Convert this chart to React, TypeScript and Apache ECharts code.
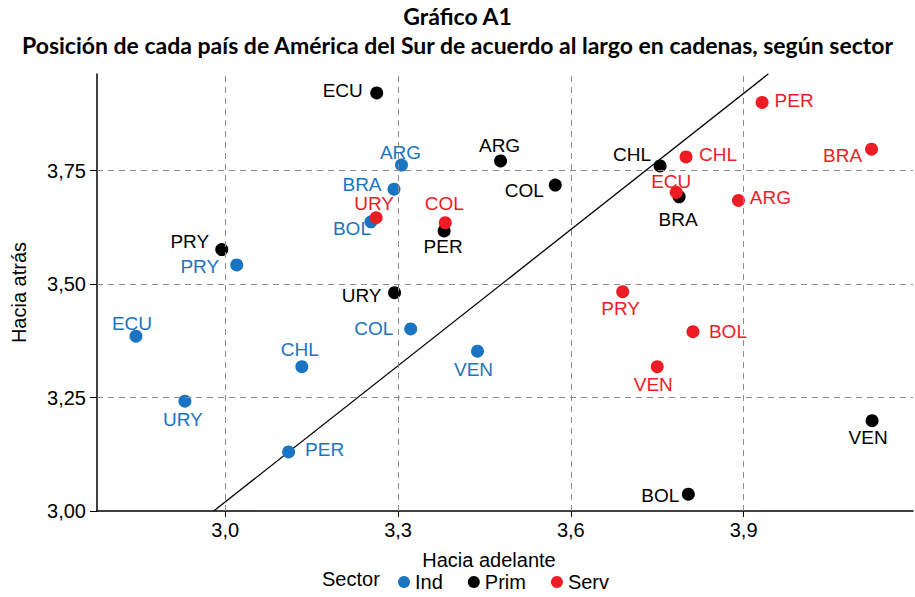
import React, { useEffect, useRef } from "react";
import * as echarts from "echarts";

// ---- Data ----
const xTicks = [3.0, 3.3, 3.6, 3.9];
const yTicks = [3.0, 3.25, 3.5, 3.75];
const xGridLines = [3.0, 3.3, 3.6, 3.9];
const yGridLines = [3.25, 3.5, 3.75];

const indNames = ["ECU", "URY", "PRY", "CHL", "PER", "COL", "VEN", "ARG", "BRA", "BOL"];
const indX = [2.845, 2.93, 3.02, 3.133, 3.11, 3.322, 3.438, 3.306, 3.293, 3.253];
const indY = [3.385, 3.242, 3.542, 3.318, 3.13, 3.401, 3.352, 3.762, 3.709, 3.637];

const primNames = ["ECU", "ARG", "COL", "PER", "PRY", "URY", "CHL", "BRA", "BOL", "VEN"];
const primX = [3.263, 3.478, 3.573, 3.38, 2.994, 3.294, 3.755, 3.788, 3.804, 4.123];
const primY = [3.921, 3.771, 3.718, 3.617, 3.576, 3.481, 3.76, 3.692, 3.037, 3.199];

const servNames = ["URY", "COL", "PER", "CHL", "ECU", "ARG", "BRA", "PRY", "BOL", "VEN"];
const servX = [3.262, 3.382, 3.932, 3.8, 3.783, 3.891, 4.122, 3.69, 3.812, 3.75];
const servY = [3.646, 3.635, 3.9, 3.78, 3.702, 3.684, 3.797, 3.483, 3.395, 3.318];

// reference diagonal (two endpoints)
const diagX = [2.98, 3.943];
const diagY = [3.0, 3.963];

// ---- Label placement (offsets from point centre, px) ----
const indLabelOffsets = [[-4, -13], [-2, 18], [-37, 2], [-2, -17], [36, -2], [-37, 0], [-4, 18], [-1, -13], [-32, -5], [-19, 7]];
const primLabelOffsets = [[-34, -2], [-1, -15], [-31, 5], [-1, 16], [-32, -8], [-33, 3], [-28, -11], [-1, 23], [-28, 1], [-4, 17]];
const servLabelOffsets = [[-2, -14], [-1, -19], [32, -2], [32, -2], [-5, -11], [32, -3], [-29, 6], [-2, 17], [35, 0], [-4, 18]];

const BLUE = "#1a74c2";
const BLACK = "#000000";
const RED = "#ee1c25";
const FONT = "Arial, 'Liberation Sans', sans-serif";
const TITLE_FONT = "Lato, 'Open Sans', sans-serif";

function buildPoints(names: string[], xs: number[], ys: number[], offs: number[][], color: string) {
  return names.map((n, i) => ({
    name: n,
    value: [xs[i], ys[i]],
    label: {
      show: true,
      position: "inside",
      offset: offs[i],
      formatter: n,
      color,
      opacity: 1,
      fontSize: 19,
      fontFamily: FONT,
    },
  }));
}

export default function App() {
  const ref = useRef<HTMLDivElement>(null);
  useEffect(() => {
    if (!ref.current) return;
    const chart = echarts.init(ref.current, null, { renderer: "svg" });
    const xMin = 2.7774;
    const xMax = 4.194;
    const yMin = 3.0;
    const yMax = 3.9626;
    const scatterBase = {
      type: "scatter",
      symbol: "circle",
      symbolSize: 13,
      z: 3,
      emphasis: { disabled: true },
    };
    const titleStyle = {
      fontFamily: TITLE_FONT,
      fontWeight: "bold",
      fontSize: 23,
      color: "#000",
    };
    chart.setOption({
      animation: false,
      title: [
        { text: "Gráfico A1", left: "center", top: -1, textStyle: titleStyle },
        {
          text: "Posición de cada país de América del Sur de acuerdo al largo en cadenas, según sector",
          left: "center",
          top: 28,
          textStyle: titleStyle,
        },
      ],
      grid: { left: 97, right: 2, top: 74, bottom: 86, containLabel: false },
      legend: {
        data: ["Ind", "Prim", "Serv"],
        left: 393,
        top: 567,
        icon: "circle",
        itemWidth: 12,
        itemHeight: 12,
        itemGap: 25,
        itemStyle: { opacity: 1 },
        textStyle: { fontSize: 20, fontFamily: FONT, color: "#000" },
      },
      graphic: [
        {
          type: "text",
          left: 322,
          top: 569,
          style: { text: "Sector", fontSize: 20, fontFamily: FONT, fill: "#000" },
        },
      ],
      xAxis: {
        type: "value",
        min: xMin,
        max: xMax,
        name: "Hacia adelante",
        nameLocation: "middle",
        nameGap: 39,
        nameTextStyle: { fontSize: 20, fontFamily: FONT, color: "#000", padding: [0, 32, 0, 0] },
        axisLine: { show: true, lineStyle: { color: "#000", width: 1.5 } },
        axisTick: { show: true, length: 6, customValues: xTicks, lineStyle: { color: "#000" } },
        axisLabel: {
          customValues: xTicks,
          formatter: (v: number) => v.toFixed(1).replace(".", ","),
          fontSize: 20,
          fontFamily: FONT,
          color: "#000",
          margin: 9,
        },
        splitLine: { show: false },
      },
      yAxis: {
        type: "value",
        min: yMin,
        max: yMax,
        name: "Hacia atrás",
        nameLocation: "middle",
        nameGap: 68,
        nameTextStyle: { fontSize: 20, fontFamily: FONT, color: "#000" },
        axisLine: { show: true, lineStyle: { color: "#000", width: 1.5 } },
        axisTick: { show: true, length: 7, customValues: yTicks, lineStyle: { color: "#000" } },
        axisLabel: {
          customValues: yTicks,
          formatter: (v: number) => v.toFixed(2).replace(".", ","),
          fontSize: 20,
          fontFamily: FONT,
          color: "#000",
          margin: 11,
        },
        splitLine: { show: false },
      },
      series: [
        {
          type: "line",
          name: "grid",
          data: [],
          z: 1,
          silent: true,
          markLine: {
            silent: true,
            symbol: "none",
            label: { show: false },
            lineStyle: { type: [6, 5], color: "#8c8c8c", width: 1 },
            emphasis: { disabled: true },
            data: [
              ...xGridLines.map((v) => ({ xAxis: v })),
              ...yGridLines.map((v) => ({ yAxis: v })),
            ],
          },
        },
        {
          type: "line",
          name: "diag",
          data: diagX.map((x, i) => [x, diagY[i]]),
          symbol: "none",
          z: 2,
          silent: true,
          lineStyle: { color: "#000", width: 1.3 },
        },
        { ...scatterBase, name: "Ind", itemStyle: { color: BLUE, opacity: 1 }, data: buildPoints(indNames, indX, indY, indLabelOffsets, BLUE) },
        { ...scatterBase, name: "Prim", itemStyle: { color: BLACK, opacity: 1 }, data: buildPoints(primNames, primX, primY, primLabelOffsets, BLACK) },
        { ...scatterBase, name: "Serv", itemStyle: { color: RED, opacity: 1 }, data: buildPoints(servNames, servX, servY, servLabelOffsets, RED) },
      ],
    });
    return () => chart.dispose();
  }, []);
  return <div ref={ref} style={{ width: 915, height: 597, position: "absolute", left: 0, top: 0 }} />;
}
